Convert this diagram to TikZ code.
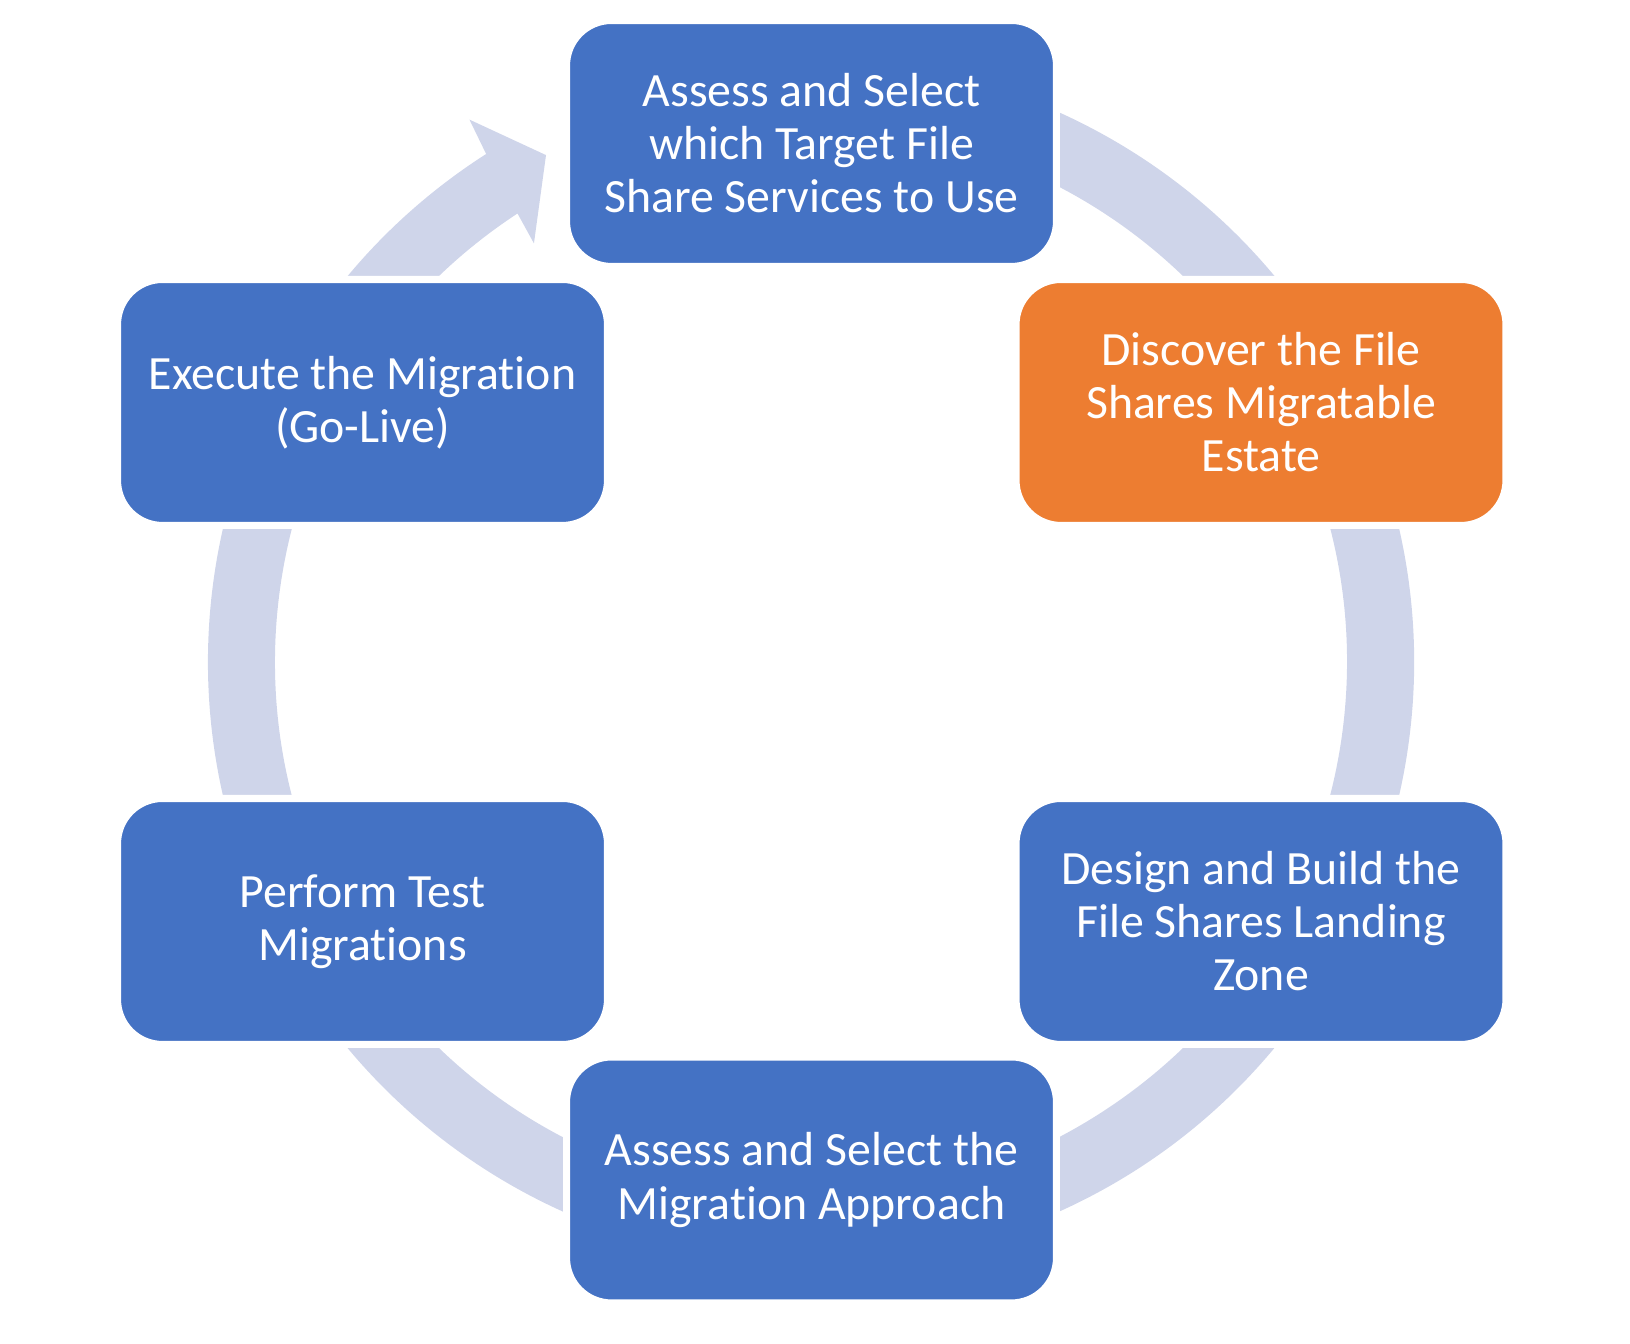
\documentclass[tikz,border=0pt]{standalone}
\usepackage{fontspec}
\setmainfont{Carlito}[Ligatures=NoCommon]
\definecolor{stageblue}{HTML}{4472C4}
\definecolor{stageorange}{HTML}{ED7D31}
\definecolor{ringgrey}{HTML}{CFD5EA}
\tikzset{stage/.style={fill=stageblue, draw=white, line width=4pt, rounded corners=0.9cm, minimum width=9.8cm, minimum height=4.92cm, align=center, text=white, font=\fontsize{27.2}{30.2}\selectfont}, hot/.style={stage, fill=stageorange}}

\begin{document}
\begin{tikzpicture}[x=0.02cm,y=0.02cm]
  \useasboundingbox (0,0) rectangle (1630,1344);
  % the cycle ring with its one arrow head
  \begin{scope}[shift={(811,682)}]
   \fill[ringgrey] (110:603) arc[start angle=110, end angle=-237.4, radius=603]
    -- (-237.8:641) -- (-242.4:572) -- (-236.5:502) -- (-236.8:536)
    arc[start angle=-236.8, end angle=110, radius=536] -- cycle;
  \end{scope}
  \node[stage] (target) at (811.5,1200.5) {Assess and Select\\which Target File\\Share Services to Use};
  \node[hot] (discover) at (1261,941.5) {Discover the File\\Shares Migratable\\Estate};
  \node[stage] (landing) at (1261,422.5) {Design and Build the\\File Shares Landing\\Zone};
  \node[stage] (approach) at (811.5,164) {Assess and Select the\\Migration Approach};
  \node[stage] (tests) at (362.5,422.5) {Perform Test\\Migrations};
  \node[stage] (golive) at (362.5,941.5) {Execute the Migration\\(Go-Live)};
\end{tikzpicture}
\end{document}
